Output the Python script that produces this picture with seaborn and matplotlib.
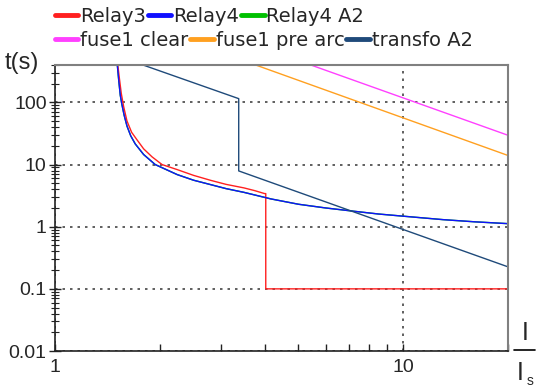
import numpy as np
import pandas as pd
import matplotlib
matplotlib.use('Agg')
import matplotlib.pyplot as plt
import seaborn as sns
from matplotlib.ticker import LogLocator, FixedLocator, NullFormatter, FixedFormatter

# values (I/Is, t in s)
relay3_x = [1.515, 1.53, 1.55, 1.575, 1.61, 1.66, 1.72, 1.797, 1.9, 2.03, 2.243, 2.5, 2.797, 3.1, 3.49, 3.75, 4.0, 4.03, 4.03, 20]
relay3_t = [400, 250, 140, 85, 50, 33, 25, 17.9, 13.3, 10, 8.3, 6.7, 5.58, 4.8, 4.21, 3.8, 3.41, 3.41, 0.1, 0.1]

relay4_x = [1.51, 1.525, 1.54, 1.555, 1.58, 1.61, 1.65, 1.7, 1.797, 1.94, 2.243, 2.5, 2.797, 3.1, 3.49, 4.17, 5.0, 6.0, 7.24, 8.5, 10.1, 13, 16, 20]
relay4_t = [400, 220, 130, 95, 62, 41.5, 29, 21.5, 14.5, 10, 6.9, 5.6, 4.76, 4.1, 3.57, 2.8, 2.3, 2.0, 1.77, 1.6, 1.47, 1.3, 1.2, 1.12]

relay4a2_x = relay4_x
relay4a2_t = relay4_t

fuse_clear_x = [5.43, 20]
fuse_clear_t = [400, 29.6]

fuse_prearc_x = [3.77, 20]
fuse_prearc_t = [400, 14]

transfo_x = [1.79, 3.37, 3.37, 20]
transfo_t = [400, 115, 7.9, 0.226]

series = [
    ('Relay3', relay3_x, relay3_t, '#ff2020'),
    ('Relay4', relay4_x, relay4_t, '#1010ff'),
    ('Relay4 A2', relay4a2_x, relay4a2_t, '#00c000'),
    ('fuse1 clear', fuse_clear_x, fuse_clear_t, '#ff40ff'),
    ('fuse1 pre arc', fuse_prearc_x, fuse_prearc_t, '#ffa020'),
    ('transfo A2', transfo_x, transfo_t, '#1f4a7a'),
]

sns.set_style('ticks')
plt.rcParams['font.family'] = ['Liberation Sans', 'DejaVu Sans']

fig = plt.figure(figsize=(5.41, 3.89), dpi=100)
ax = fig.add_axes([55 / 541, 1 - 351 / 389, 453 / 541, 286 / 389])

draw_order = [2, 0, 1, 3, 4, 5]
for i in draw_order:
    name, xs, ts, col = series[i]
    sns.lineplot(x=xs, y=ts, sort=False, estimator=None, color=col,
                 linewidth=1.0, label=name, ax=ax, legend=False)

ax.set_xscale('log')
ax.set_yscale('log')
ax.set_xlim(1, 20)
ax.set_ylim(0.01, 400)

ax.xaxis.set_major_locator(FixedLocator([1, 10]))
ax.xaxis.set_major_formatter(FixedFormatter(['1', '10']))
ax.xaxis.set_minor_locator(FixedLocator([2, 3, 4, 5, 6, 7, 8, 9, 20]))
ax.xaxis.set_minor_formatter(NullFormatter())
ax.yaxis.set_major_locator(FixedLocator([0.01, 0.1, 1, 10, 100]))
ax.yaxis.set_major_formatter(FixedFormatter(['0.01', '0.1', '1', '10', '100']))
ax.yaxis.set_minor_locator(LogLocator(base=10, subs=np.arange(2, 10), numticks=20))
ax.yaxis.set_minor_formatter(NullFormatter())

ax.tick_params(axis='x', which='both', direction='in', length=5, width=1, labelsize=14, pad=6, color='#222222')
ax.tick_params(axis='y', which='major', direction='inout', length=8, width=1, labelsize=14, pad=2, color='#222222')
ax.tick_params(axis='y', which='minor', direction='inout', length=6, width=0.8, color='#222222')

ax.grid(True, which='major', linestyle=(0, (1.5, 3)), color='#444444', linewidth=1.2)
ax.grid(False, which='minor')

for s in ['left', 'bottom']:
    ax.spines[s].set_color('#222222')
    ax.spines[s].set_linewidth(1.2)
for s in ['top', 'right']:
    ax.spines[s].set_color('#808080')
    ax.spines[s].set_linewidth(1.5)

# legend in two flowing rows
handles = {l.get_label(): l for l in ax.get_lines()}
row1 = ['Relay3', 'Relay4', 'Relay4 A2']
row2 = ['fuse1 clear', 'fuse1 pre arc', 'transfo A2']
leg_kw = dict(ncol=3, frameon=False, handlelength=1.2, handletextpad=0.1,
              columnspacing=0.1, borderaxespad=0, borderpad=0,
              prop={'family': 'DejaVu Sans', 'size': 14})
leg1 = fig.legend([handles[n] for n in row1], row1, loc='upper left',
                  bbox_to_anchor=(55 / 541, 1 - 7 / 389), **leg_kw)
leg2 = fig.legend([handles[n] for n in row2], row2, loc='upper left',
                  bbox_to_anchor=(55 / 541, 1 - 31 / 389), **leg_kw)
for leg in (leg1, leg2):
    for ln in leg.get_lines():
        ln.set_linewidth(3.5)

fig.text(5 / 541, 1 - 69 / 389, 't(s)', fontsize=17, ha='left', va='baseline')
fig.text(525 / 541, 1 - 340 / 389, 'I', fontsize=18, ha='center', va='baseline')
fig.add_artist(plt.Line2D([514 / 541, 535 / 541], [1 - 350 / 389, 1 - 350 / 389],
                          color='black', linewidth=1.2, transform=fig.transFigure))
fig.text(520 / 541, 1 - 380 / 389, 'I', fontsize=18, ha='center', va='baseline')
fig.text(527 / 541, 1 - 385 / 389, 's', fontsize=10, ha='left', va='baseline')

fig.savefig('out.png', dpi=100)
